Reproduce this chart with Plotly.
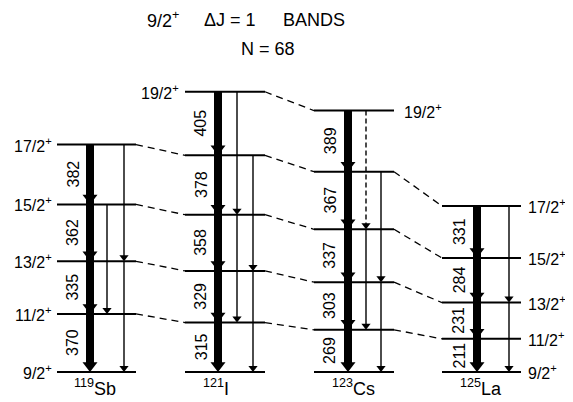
import numpy as np
import plotly.graph_objects as go

# ---------------- data ----------------
spins = ["9/2", "11/2", "13/2", "15/2", "17/2", "19/2"]
mass_numbers = ["119", "121", "123", "125"]
elements = ["Sb", "I", "Cs", "La"]
gamma_Sb = [370, 335, 362, 382]
gamma_I = [315, 329, 358, 378, 405]
gamma_Cs = [269, 303, 337, 367, 389]
gamma_La = [211, 231, 284, 331]
gammas = [gamma_Sb, gamma_I, gamma_Cs, gamma_La]

# crossover (E2) transitions: list of columns, each a list of (from, to, dashed)
crossovers = [
    [[(3, 1, False)], [(4, 2, False), (2, 0, False)]],
    [[(5, 3, False), (3, 1, False)], [(4, 2, False), (2, 0, False)]],
    [[(5, 3, True), (3, 1, False)], [(4, 2, False), (2, 0, False)]],
    [[(4, 2, False), (2, 0, False)]],
]

# ---------------- layout helpers ----------------
W, H = 573, 402
OFF = 8                   # page body margin
FW, FH = W - OFF, H - OFF
Y0_PX = 372               # page pixel row of the 9/2+ level
k = 0.157                 # px per keV
YMAX = (Y0_PX - OFF) / k
YMIN = YMAX - FH / k

def py(p):                # page pixel row -> data y (for text placement)
    return (Y0_PX - p) / k

band_left = [57, 185, 314, 442]
band_right = [136, 265, 394, 521]
thick_x = [90, 218, 348, 477]
elabel_x = [73, 201, 330, 459]
cross_x = [[107, 124], [237, 253], [366, 381], [509]]
iso_x = [95, 216, 353, 481]

levels = [np.concatenate([[0], np.cumsum(g)]) for g in gammas]

FONT = "Liberation Sans"
fig = go.Figure()

# level lines
lx, ly = [], []
for b, lev in enumerate(levels):
    for e in lev:
        lx += [band_left[b], band_right[b], None]
        ly += [e, e, None]
fig.add_trace(go.Scatter(x=lx, y=ly, mode="lines", line=dict(color="black", width=2),
                         hoverinfo="skip"))

# dashed connectors between bands (same spin, excluding 9/2)
cx, cy = [], []
for b in range(3):
    n = min(len(levels[b]), len(levels[b + 1]))
    for i in range(1, n):
        cx += [band_right[b], band_left[b + 1], None]
        cy += [levels[b][i], levels[b + 1][i], None]
fig.add_trace(go.Scatter(x=cx, y=cy, mode="lines",
                         line=dict(color="black", width=1.3, dash="7px,5px"),
                         hoverinfo="skip"))

# thin crossover arrows
thin_s = 8
thin_off = (thin_s / 2) / k
sx, sy, dx, dy, hx, hy = [], [], [], [], [], []
for b, cols in enumerate(crossovers):
    for c, col in enumerate(cols):
        x = cross_x[b][c]
        for (fi, ti, dashed) in col:
            y1, y2 = levels[b][fi], levels[b][ti] + thin_off
            if dashed:
                dx += [x, x, None]; dy += [y1, y2, None]
            else:
                sx += [x, x, None]; sy += [y1, y2, None]
            hx.append(x); hy.append(levels[b][ti] + thin_off)
fig.add_trace(go.Scatter(x=sx, y=sy, mode="lines", line=dict(color="black", width=1.4),
                         hoverinfo="skip"))
fig.add_trace(go.Scatter(x=dx, y=dy, mode="lines",
                         line=dict(color="black", width=1.4, dash="5px,3px"),
                         hoverinfo="skip"))
fig.add_trace(go.Scatter(x=hx, y=hy, mode="markers",
                         marker=dict(symbol="triangle-down", size=thin_s, color="black",
                                     line=dict(width=0)),
                         hoverinfo="skip"))

# thick M1 cascade
thick_s = 13
thick_off = (thick_s / 2) / k
tx, ty, ax_, ay_ = [], [], [], []
for b, lev in enumerate(levels):
    tx += [thick_x[b], thick_x[b], None]
    ty += [lev[-1], lev[0] + thick_off, None]
    for e in lev[:-1]:
        ax_.append(thick_x[b]); ay_.append(e + thick_off)
fig.add_trace(go.Scatter(x=tx, y=ty, mode="lines", line=dict(color="black", width=8),
                         hoverinfo="skip"))
fig.add_trace(go.Scatter(x=ax_, y=ay_, mode="markers",
                         marker=dict(symbol="triangle-down", size=thick_s, color="black",
                                     line=dict(width=0)),
                         hoverinfo="skip"))

ann = []
# gamma energy labels
for b, g in enumerate(gammas):
    for i, e in enumerate(g):
        ann.append(dict(x=elabel_x[b], y=(levels[b][i] + levels[b][i + 1]) / 2,
                        text=str(e), textangle=-90, showarrow=False,
                        font=dict(size=16, family=FONT, color="black"),
                        xanchor="center", yanchor="middle"))

def spin_text(s):
    return s + "<sup>+</sup>"

SF = dict(size=16, family=FONT, color="black")
# spin labels: Sb on the left
for i, e in enumerate(levels[0]):
    ann.append(dict(x=54, y=e, text=spin_text(spins[i]), showarrow=False,
                    xanchor="right", yanchor="middle", font=SF))
# I top level on the left
ann.append(dict(x=181, y=levels[1][-1], text=spin_text(spins[len(levels[1]) - 1]),
                showarrow=False, xanchor="right", yanchor="middle", font=SF))
# Cs top level on the right
ann.append(dict(x=402, y=levels[2][-1], text=spin_text(spins[len(levels[2]) - 1]),
                showarrow=False, xanchor="left", yanchor="middle", font=SF))
# La on the right
for i, e in enumerate(levels[3]):
    ann.append(dict(x=526, y=e, text=spin_text(spins[i]), showarrow=False,
                    xanchor="left", yanchor="middle", font=SF))

# isotope labels
for b in range(4):
    ann.append(dict(x=iso_x[b], y=py(387), text="<sup>%s</sup>%s" % (mass_numbers[b], elements[b]),
                    showarrow=False, xanchor="center", yanchor="middle",
                    font=dict(size=18, family=FONT, color="black")))

# title
TF = dict(size=18, family=FONT, color="black")
ann.append(dict(x=145, y=py(19), yanchor="middle", xanchor="left",
                text="9/2<sup>+</sup>", showarrow=False, font=TF))
ann.append(dict(x=202, y=py(20), yanchor="middle", xanchor="left",
                text="ΔJ = 1", showarrow=False, font=TF))
ann.append(dict(x=281, y=py(20), yanchor="middle", xanchor="left",
                text="BANDS", showarrow=False, font=TF))
ann.append(dict(x=268, y=py(49), yanchor="middle", xanchor="center",
                text="N = 68", showarrow=False, font=TF))

fig.update_layout(
    width=FW, height=FH, margin=dict(l=0, r=0, t=0, b=0),
    paper_bgcolor="white", plot_bgcolor="white", showlegend=False,
    xaxis=dict(range=[OFF, W], visible=False, fixedrange=True),
    yaxis=dict(range=[YMIN, YMAX], visible=False, fixedrange=True),
    annotations=ann,
)
fig.write_html("out.html")
